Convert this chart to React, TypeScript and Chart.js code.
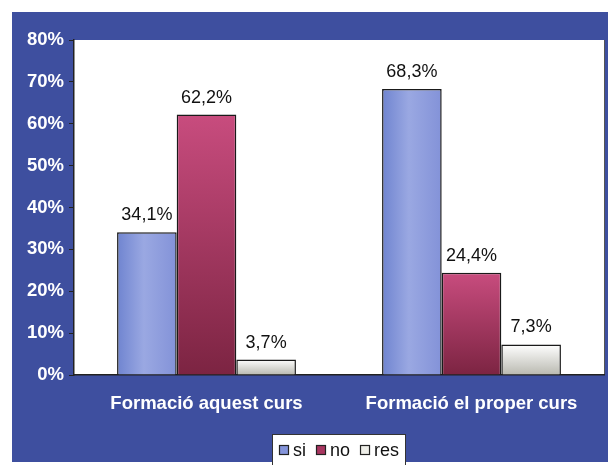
import React, { useEffect, useRef } from "react";
import { Chart, registerables } from "chart.js";

Chart.register(...registerables);

const categories = ["Formació aquest curs", "Formació el proper curs"];
const seriesNames = ["si", "no", "res"];
const siValues = [34.1, 68.3];
const noValues = [62.2, 24.4];
const resValues = [3.7, 7.3];
const yTicks = [0, 10, 20, 30, 40, 50, 60, 70, 80];

const FONT = "'Liberation Sans', Arial, sans-serif";
const PANEL = "#3e4f9f";
const CAT_PCT = 0.675;

const gradStops: Record<string, [string, string]> = {
  no: ["#c84c7e", "#7c2442"],
  res: ["#ffffff", "#b9b9b0"],
};
const legendColors: Record<string, string> = {
  si: "#8494da",
  no: "#a83660",
  res: "#eeeee8",
};

function siGradient(ctx: any) {
  const chart = ctx.chart;
  const area = chart.chartArea;
  if (!area || ctx.dataIndex == null) return "#8a9ad9";
  const xScale = chart.scales.x;
  const n = chart.data.datasets.length;
  const catW = (area.right - area.left) / chart.data.labels.length;
  const barW = (catW * CAT_PCT) / n;
  const cx = xScale.getPixelForValue(ctx.dataIndex);
  const left = cx - (n / 2) * barW + ctx.datasetIndex * barW;
  const g = chart.ctx.createLinearGradient(left, 0, left + barW, 0);
  g.addColorStop(0, "#6f84d0");
  g.addColorStop(0.45, "#9aa8e2");
  g.addColorStop(1, "#8392d8");
  return g;
}

function barGradient(name: string) {
  return (ctx: any) => {
    const chart = ctx.chart;
    const area = chart.chartArea;
    if (!area || ctx.parsed == null) return gradStops[name][0];
    const yScale = chart.scales.y;
    const top = yScale.getPixelForValue(ctx.parsed.y);
    const bottom = area.bottom;
    const g = chart.ctx.createLinearGradient(0, top, 0, Math.max(bottom, top + 1));
    g.addColorStop(0, gradStops[name][0]);
    g.addColorStop(1, gradStops[name][1]);
    return g;
  };
}

const backgroundPlugin = {
  id: "bgPanel",
  beforeDraw(chart: any) {
    const { ctx, width, height, chartArea } = chart;
    ctx.save();
    ctx.fillStyle = "#ffffff";
    ctx.fillRect(0, 0, width, height);
    ctx.fillStyle = PANEL;
    ctx.fillRect(12, 12, width - 12, height - 15);
    ctx.fillStyle = "#ffffff";
    ctx.fillRect(chartArea.left, chartArea.top, chartArea.right - chartArea.left, chartArea.bottom - chartArea.top);
    ctx.strokeStyle = "#555";
    ctx.lineWidth = 1;
    ctx.beginPath();
    ctx.moveTo(chartArea.right + 0.5, chartArea.top);
    ctx.lineTo(chartArea.right + 0.5, chartArea.bottom);
    ctx.stroke();
    ctx.restore();
  },
};

const valueLabelPlugin = {
  id: "valueLabels",
  afterDatasetsDraw(chart: any) {
    const { ctx } = chart;
    ctx.save();
    ctx.font = `18px ${FONT}`;
    ctx.fillStyle = "#111";
    ctx.textAlign = "center";
    ctx.textBaseline = "alphabetic";
    chart.data.datasets.forEach((ds: any, i: number) => {
      const meta = chart.getDatasetMeta(i);
      meta.data.forEach((bar: any, j: number) => {
        const v = ds.data[j];
        const txt = v.toFixed(1).replace(".", ",") + "%";
        ctx.fillText(txt, bar.x, bar.y - 12);
      });
    });
    ctx.restore();
  },
};

const legendPlugin = {
  id: "customLegend",
  afterDraw(chart: any) {
    const { ctx, chartArea, height } = chart;
    const cx = (chartArea.left + chartArea.right) / 2;
    ctx.save();
    ctx.font = `18px ${FONT}`;
    const box = 10;
    const gapText = 4;
    const gapItem = 10;
    const widths = seriesNames.map((n) => ctx.measureText(n).width);
    let total = 0;
    widths.forEach((w, i) => {
      total += box + gapText + w + (i < widths.length - 1 ? gapItem : 0);
    });
    const padL = 7;
    const padR = 6;
    const lx = Math.round(cx - total / 2 - padL);
    const lw = Math.round(total + padL + padR);
    const ly = 434;
    ctx.fillStyle = "#ffffff";
    ctx.fillRect(lx, ly, lw, height - ly);
    ctx.strokeStyle = "#333";
    ctx.lineWidth = 1;
    ctx.strokeRect(lx + 0.5, ly + 0.5, lw, height - ly + 2);
    let x = lx + padL;
    const cy = 450;
    seriesNames.forEach((n, i) => {
      ctx.fillStyle = legendColors[n];
      ctx.fillRect(x, cy - 5, box, box);
      ctx.strokeStyle = "#222";
      ctx.lineWidth = 1.2;
      ctx.strokeRect(x + 0.5, cy - 5 + 0.5, box - 1, box - 1);
      ctx.fillStyle = "#111";
      ctx.textAlign = "left";
      ctx.textBaseline = "middle";
      ctx.fillText(n, x + box + gapText, cy + 1);
      x += box + gapText + widths[i] + gapItem;
    });
    ctx.restore();
  },
};

export default function App() {
  const ref = useRef<HTMLCanvasElement | null>(null);
  useEffect(() => {
    if (!ref.current) return;
    const chart = new Chart(ref.current, {
      type: "bar",
      data: {
        labels: categories,
        datasets: [
          { label: seriesNames[0], data: siValues, backgroundColor: siGradient, borderColor: "#1a1a1a", borderWidth: 1.5 },
          { label: seriesNames[1], data: noValues, backgroundColor: barGradient("no"), borderColor: "#1a1a1a", borderWidth: 1.5 },
          { label: seriesNames[2], data: resValues, backgroundColor: barGradient("res"), borderColor: "#1a1a1a", borderWidth: 1.5 },
        ],
      },
      options: {
        responsive: false,
        animation: false,
        layout: { padding: { left: 12, top: 40, right: 4, bottom: 0 } },
        datasets: { bar: { categoryPercentage: CAT_PCT, barPercentage: 1 } },
        plugins: { legend: { display: false }, tooltip: { enabled: false } },
        scales: {
          x: {
            grid: { display: false, drawTicks: false },
            border: { display: true, color: "#222", width: 1.5 },
            ticks: { color: "#ffffff", font: { family: FONT, size: 18.5, weight: "bold" }, padding: 18 },
            afterFit: (scale: any) => {
              scale.height = 90;
            },
          },
          y: {
            min: 0,
            max: 80,
            afterBuildTicks: (scale: any) => {
              scale.ticks = yTicks.map((v) => ({ value: v }));
            },
            grid: { drawOnChartArea: false, drawTicks: true, tickLength: 5, color: "#222" },
            border: { display: true, color: "#222", width: 1.5 },
            ticks: {
              color: "#ffffff",
              font: { family: FONT, size: 18.5, weight: "bold" },
              padding: 5,
              callback: (v: any) => v + "%",
            },
            afterFit: (scale: any) => {
              scale.width = 62;
            },
          },
        },
      },
      plugins: [backgroundPlugin, valueLabelPlugin, legendPlugin],
    });
    return () => chart.destroy();
  }, []);
  return (
    <div style={{ position: "absolute", left: 0, top: 0, width: 608, height: 465 }}>
      <canvas ref={ref} width={608} height={465} style={{ display: "block" }} />
    </div>
  );
}
